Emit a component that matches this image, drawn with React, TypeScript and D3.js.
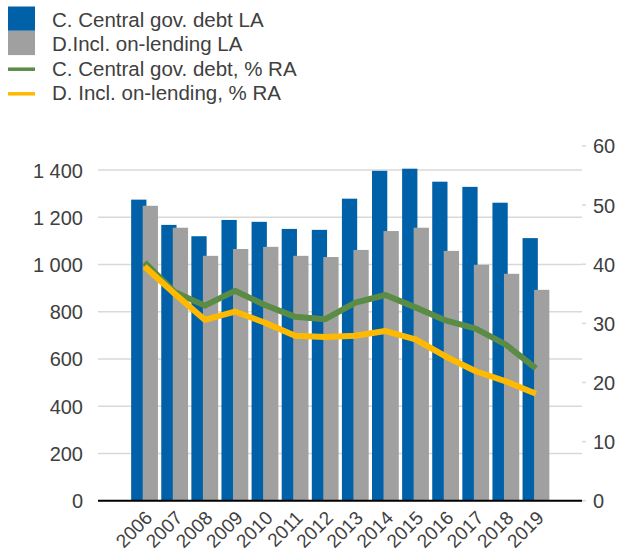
import * as d3 from 'd3';

const years = ['2006', '2007', '2008', '2009', '2010', '2011', '2012', '2013', '2014', '2015', '2016', '2017', '2018', '2019'];
const centralDebt = [1275, 1168, 1120, 1189, 1181, 1151, 1147, 1279, 1397, 1406, 1351, 1329, 1262, 1112];
const inclOnLending = [1249, 1156, 1037, 1066, 1075, 1037, 1032, 1062, 1142, 1156, 1058, 999, 961, 893];
const centralPct = [40.3, 35.3, 33.0, 35.5, 33.1, 31.1, 30.7, 33.5, 34.8, 32.7, 30.5, 29.1, 26.4, 22.4];
const inclPct = [39.6, 35.0, 30.6, 32.0, 30.1, 27.9, 27.7, 27.9, 28.7, 27.3, 24.4, 21.9, 20.2, 18.1];
const leftTicks = [0, 200, 400, 600, 800, 1000, 1200, 1400];
const rightTicks = [0, 10, 20, 30, 40, 50, 60];

const legendItems = [
  { label: 'C. Central gov. debt LA', color: '#0061A8', kind: 'box' },
  { label: 'D.Incl. on-lending LA', color: '#A0A0A0', kind: 'box' },
  { label: 'C. Central gov. debt, % RA', color: '#5B8C45', kind: 'line' },
  { label: 'D. Incl. on-lending, % RA', color: '#FFBA00', kind: 'line' },
];

const fmt = (v: number) => d3.format(',')(v).replace(',', ' ');

export default function App() {
  const width = 629;
  const height = 551;
  const plotLeft = 98;
  const plotRight = 582;
  const font = '"Liberation Sans", Arial, sans-serif';
  const textColor = '#404040';

  const x = d3.scaleBand<string>().domain(years).range([129.5, 551]).paddingInner(0.11).paddingOuter(0.055);
  const yL = d3.scaleLinear().domain([0, 1500]).range([500.7, 146.5]);
  const yR = d3.scaleLinear().domain([0, 60]).range([500.7, 146]);
  const bw = x.bandwidth();
  const barW = bw * 0.57;
  const cx = (y: string) => (x(y) ?? 0) + bw / 2;

  const line = (vals: number[]) =>
    d3.line<number>().x((_, i) => cx(years[i])).y(d => yR(d))(vals) ?? '';

  return (
    <svg width={width} height={height} style={{ position: 'absolute', left: 0, top: 0 }} fontFamily={font}>
      <rect width={width} height={height} fill="#fff" />
      {legendItems.map((it, i) => (
        <g key={it.label}>
          {it.kind === 'box' ? (
            <rect x={8} y={6.5 + i * 24.3} width={27} height={24.3} fill={it.color} />
          ) : (
            <line x1={8} x2={35} y1={20 + i * 24.6} y2={20 + i * 24.6} stroke={it.color} strokeWidth={3.5} />
          )}
          <text x={52} y={27 + i * 24.3} fontSize={20.5} fill={textColor}>{it.label}</text>
        </g>
      ))}

      {leftTicks.map(t => (
        <g key={t}>
          {t > 0 && <line x1={plotLeft} x2={plotRight} y1={yL(t)} y2={yL(t)} stroke="#D9D9D9" strokeWidth={1.5} />}
          <text x={83} y={yL(t)} dy="0.37em" textAnchor="end" fontSize={20} fill={textColor}>{fmt(t)}</text>
        </g>
      ))}
      {rightTicks.map(t => (
        <g key={t}>
          <line x1={plotRight} x2={586} y1={yR(t)} y2={yR(t)} stroke="#D9D9D9" strokeWidth={1.5} />
          <text x={593} y={yR(t)} dy="0.37em" fontSize={20} fill={textColor}>{t}</text>
        </g>
      ))}

      {years.map((y, i) => (
        <g key={y}>
          <rect x={x(y)} y={yL(centralDebt[i])} width={barW} height={yL(0) - yL(centralDebt[i])} fill="#0061A8" />
          <rect x={(x(y) ?? 0) + bw - barW} y={yL(inclOnLending[i])} width={barW} height={yL(0) - yL(inclOnLending[i])} fill="#A0A0A0" />
        </g>
      ))}

      <line x1={plotLeft} x2={plotRight} y1={yL(0)} y2={yL(0)} stroke="#000" strokeWidth={2} />

      <path d={line(centralPct)} fill="none" stroke="#5B8C45" strokeWidth={6} strokeLinejoin="round" />
      <path d={line(inclPct)} fill="none" stroke="#FFBA00" strokeWidth={6} strokeLinejoin="round" />

      {years.map(y => (
        <text key={y} transform={`translate(${cx(y) + 9},${519}) rotate(-45)`} textAnchor="end" fontSize={19} fill={textColor}>{y}</text>
      ))}
    </svg>
  );
}
